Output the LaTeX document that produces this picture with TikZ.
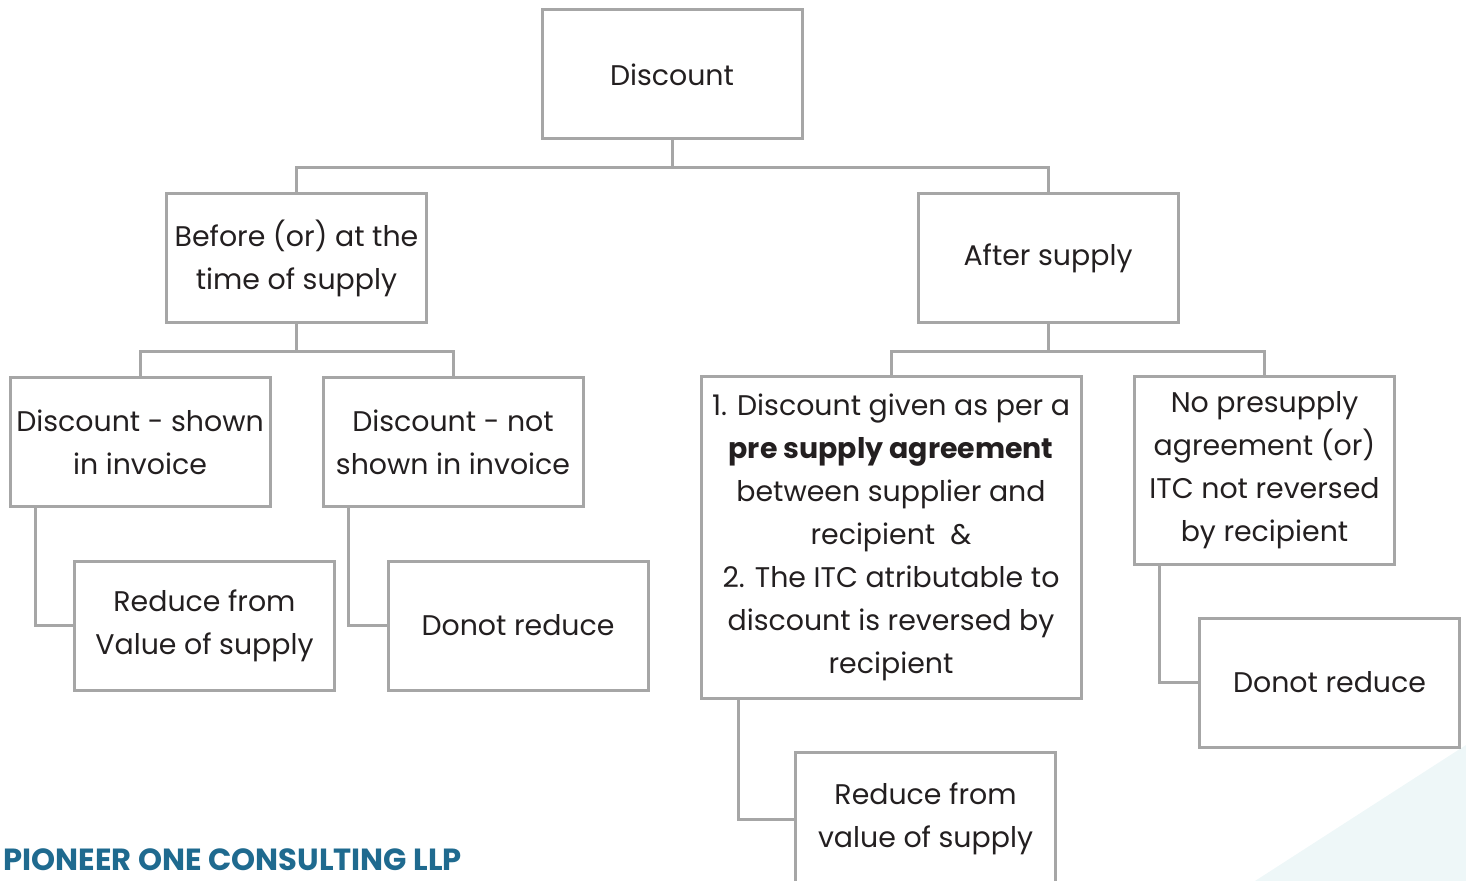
\documentclass[tikz,border=0pt]{standalone}
\usepackage{fontspec}
\setmainfont{Poppins}
\usetikzlibrary{positioning}
\definecolor{boxgray}{HTML}{A6A6A6}
\definecolor{inkblack}{HTML}{231F20}
\definecolor{brandblue}{HTML}{1F6A8F}
\definecolor{wedgecyan}{HTML}{EEF7F8}

\begin{document}
\begin{tikzpicture}[x=0.5pt,y=-0.5pt,
    box/.style={draw=boxgray, line width=1.5pt, text=inkblack, align=center,
                font=\fontsize{14.2}{21.5}\selectfont,
                minimum width=130pt, minimum height=64.5pt, inner sep=1pt},
    link/.style={draw=boxgray, line width=1.5pt}]
    \useasboundingbox (0,0) rectangle (1466,881);
    \fill[wedgecyan] (1255,881) -- (1466,745) -- (1466,881) -- cycle;

    % top level
    \node[box] (disc) at (672,74.5) {Discount};
    \node[box] (before) at (296.5,258.5) {Before (or) at the\\time of supply};
    \node[box] (after) at (1048,258.5) {After supply};

    % before branch
    \node[box] (shown) at (140,442) {Discount - shown\\in invoice};
    \node[box] (notshown) at (453,442) {Discount - not\\shown in invoice};
    \node[box] (reduce1) at (204.5,625.5) {Reduce from\\Value of supply};
    \node[box] (donot1) at (518,625.5) {Donot reduce};

    % after branch
    \node[box, minimum width=190pt, minimum height=160.5pt] (agree) at (891,537.5)
        {1. Discount given as per a\\\textbf{pre supply agreement}\\between supplier and\\recipient~~\&\\2. The ITC atributable to\\discount is reversed by\\recipient};
    \node[box, minimum height=93.5pt] (nopre) at (1264.5,470.5)
        {No presupply\\agreement (or)\\ITC not reversed\\by recipient};
    \node[box] (donot2) at (1329.5,682.5) {Donot reduce};
    \node[box, minimum height=67pt] (reduce2) at (925.5,819) {Reduce from\\value of supply};

    % connectors
    \draw[link] (disc.south) -- ++(0,27) -| (before.north);
    \draw[link] (disc.south) -- ++(0,27) -| (after.north);
    \draw[link] (before.south) -- ++(0,27) -| (shown.north);
    \draw[link] (before.south) -- ++(0,27) -| (notshown.north);
    \draw[link] (after.south) -- ++(0,27) -| (agree.north);
    \draw[link] (after.south) -- ++(0,27) -| (nopre.north);
    \draw[link] ([xshift=13.5pt]shown.south west) |- (reduce1.west);
    \draw[link] ([xshift=13.5pt]notshown.south west) |- (donot1.west);
    \draw[link] ([xshift=19.5pt]agree.south west) |- (reduce2.west);
    \draw[link] ([xshift=13pt]nopre.south west) |- (donot2.west);

    \node[font=\bfseries\fontsize{15.3}{18}\selectfont, text=brandblue, anchor=west,
          inner sep=0pt] (firm) at (3,860) {PIONEER ONE CONSULTING LLP};
\end{tikzpicture}
\end{document}
